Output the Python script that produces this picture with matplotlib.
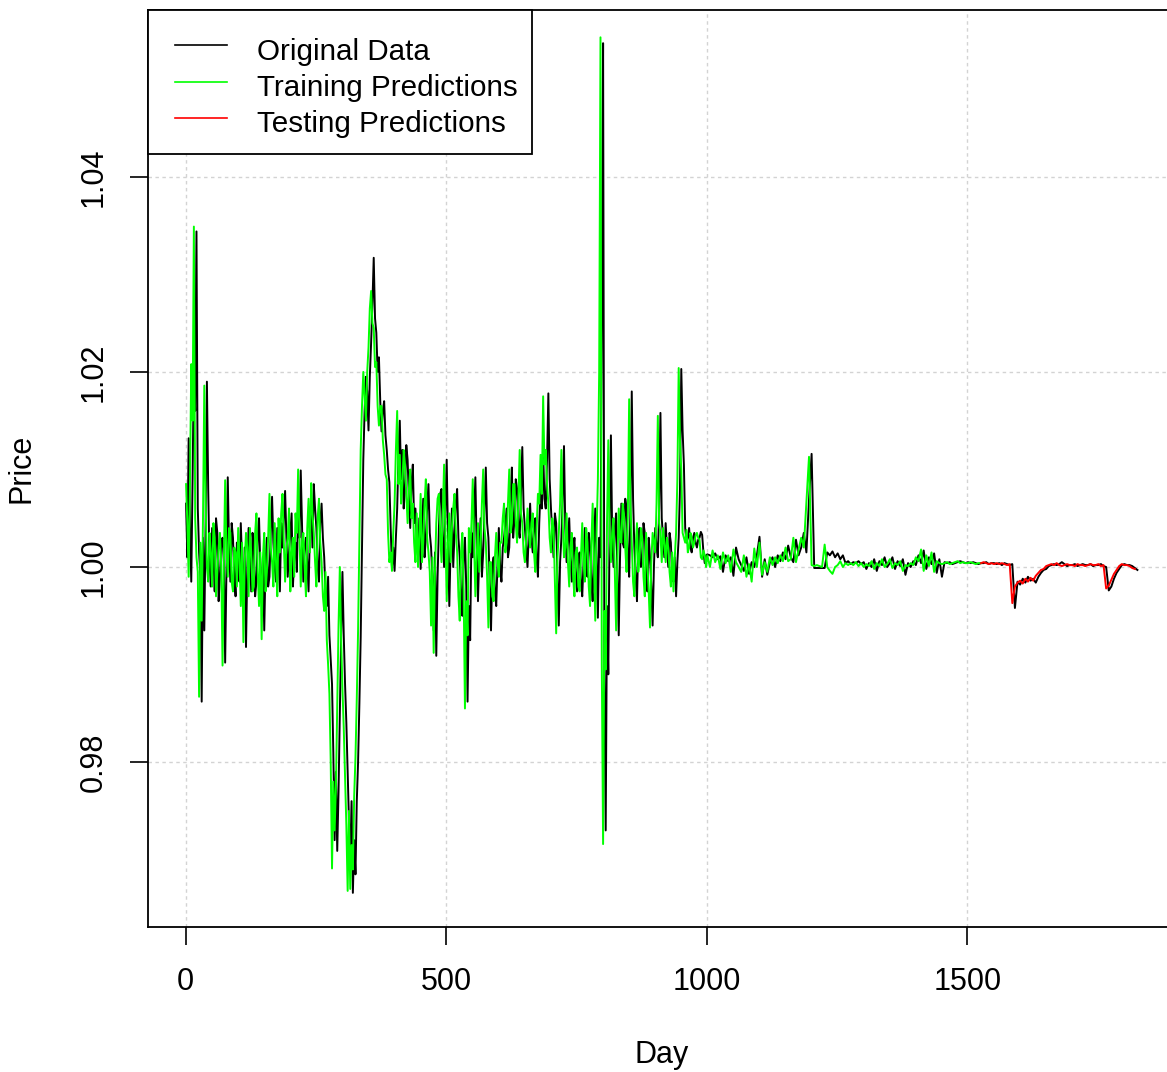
import numpy as np
import matplotlib
matplotlib.use("Agg")
import matplotlib.pyplot as plt
from matplotlib.lines import Line2D
from matplotlib.patches import Rectangle

plt.rcParams['font.family'] = ['Liberation Sans', 'DejaVu Sans']

# Price series: every 2.5 days over the volatile first 1000 days,
# then every 5 days up to day 1826
original_days = np.concatenate([np.arange(1, 1000, 2.5), np.arange(1001, 1827, 5)])
original_price = [
    # days 1 .. 998.5
    1.0065, 1.0010, 1.0132, 1.0040, 0.9985, 1.0090, 1.0205, 1.0160, 1.0344, 1.0060,
    1.0015, 0.9990, 0.9862, 1.0030, 0.9935, 1.0045, 1.0190, 1.0080, 1.0005, 0.9980,
    1.0040, 1.0010, 0.9975, 1.0050, 1.0035, 0.9965, 0.9990, 1.0025, 1.0030, 1.0005,
    0.9902, 1.0000, 1.0092, 1.0020, 0.9985, 1.0045, 1.0030, 0.9990, 0.9970, 1.0025,
    1.0010, 0.9985, 1.0045, 1.0005, 0.9965, 1.0020, 0.9918, 1.0000, 1.0040, 1.0015,
    0.9975, 1.0035, 1.0020, 0.9970, 0.9985, 1.0030, 1.0050, 1.0000, 0.9965, 1.0010,
    0.9935, 1.0005, 1.0030, 0.9980, 0.9990, 1.0035, 1.0072, 1.0025, 1.0000, 0.9985,
    1.0040, 1.0010, 0.9975, 1.0045, 1.0020, 1.0050, 1.0078, 1.0030, 0.9990, 1.0015,
    1.0035, 1.0055, 0.9980, 1.0010, 1.0025, 0.9995, 1.0060, 1.0030, 1.0099, 1.0040,
    0.9985, 1.0020, 1.0030, 1.0005, 0.9975, 1.0035, 1.0065, 1.0020, 1.0085, 1.0060,
    1.0040, 1.0000, 0.9985, 1.0045, 1.0065, 1.0030, 1.0010, 0.9975, 0.9960, 0.9990,
    0.9930, 0.9905, 0.9880, 0.9810, 0.9720, 0.9790, 0.9709, 0.9770, 0.9850, 0.9930,
    0.9995, 0.9930, 0.9880, 0.9840, 0.9790, 0.9740, 0.9700, 0.9760, 0.9666, 0.9720,
    0.9685, 0.9760, 0.9800, 0.9860, 0.9928, 1.0020, 1.0110, 1.0160, 1.0195, 1.0180,
    1.0140, 1.0195, 1.0230, 1.0270, 1.0317, 1.0255, 1.0240, 1.0200, 1.0215, 1.0170,
    1.0139, 1.0160, 1.0170, 1.0135, 1.0120, 1.0100, 1.0087, 1.0040, 1.0000, 1.0020,
    0.9996, 1.0030, 1.0060, 1.0115, 1.0150, 1.0090, 1.0120, 1.0060, 1.0080, 1.0125,
    1.0110, 1.0070, 1.0040, 1.0085, 1.0105, 1.0045, 1.0060, 1.0030, 1.0010, 1.0050,
    0.9998, 1.0035, 1.0070, 1.0010, 1.0030, 1.0060, 1.0085, 1.0035, 1.0020, 0.9990,
    0.9935, 1.0015, 0.9909, 0.9990, 1.0040, 1.0075, 1.0080, 1.0030, 1.0000, 1.0060,
    1.0110, 1.0030, 0.9960, 1.0020, 1.0060, 1.0000, 1.0035, 1.0065, 1.0080, 1.0030,
    1.0010, 0.9975, 0.9950, 1.0010, 1.0030, 0.9980, 0.9862, 0.9960, 0.9925, 1.0035,
    1.0010, 1.0050, 1.0092, 1.0020, 0.9965, 1.0015, 1.0050, 0.9990, 1.0015, 1.0060,
    1.0102, 1.0045, 1.0030, 0.9985, 0.9935, 1.0000, 1.0010, 0.9975, 0.9960, 1.0005,
    1.0040, 1.0000, 0.9985, 1.0020, 1.0030, 1.0045, 1.0060, 1.0010, 1.0020, 1.0070,
    1.0102, 1.0030, 1.0050, 1.0090, 1.0080, 1.0040, 1.0030, 1.0075, 1.0123, 1.0060,
    1.0040, 1.0020, 1.0000, 1.0035, 1.0065, 1.0030, 1.0015, 1.0040, 1.0050, 1.0010,
    0.9990, 1.0045, 1.0080, 1.0060, 1.0120, 1.0070, 1.0060, 1.0110, 1.0178, 1.0090,
    1.0060, 1.0035, 1.0010, 1.0055, 1.0045, 0.9990, 0.9940, 1.0005, 1.0030, 1.0070,
    1.0124, 1.0040, 1.0005, 1.0025, 1.0050, 1.0010, 0.9985, 1.0015, 1.0030, 0.9995,
    0.9975, 1.0010, 1.0015, 0.9985, 0.9970, 1.0005, 1.0040, 1.0010, 0.9990, 1.0035,
    1.0020, 0.9985, 0.9965, 1.0020, 1.0060, 1.0010, 0.9948, 1.0030, 1.0010, 1.0260,
    1.0537, 0.9890, 0.9730, 0.9960, 0.9890, 1.0040, 1.0135, 1.0030, 1.0000, 1.0040,
    1.0055, 0.9990, 0.9930, 1.0010, 1.0065, 1.0025, 1.0020, 1.0070, 1.0060, 1.0015,
    0.9990, 1.0060, 1.0180, 1.0070, 1.0020, 0.9990, 0.9965, 1.0025, 1.0040, 1.0000,
    1.0005, 1.0045, 1.0035, 0.9995, 0.9975, 1.0030, 1.0010, 0.9980, 0.9940, 1.0000,
    1.0040, 1.0020, 1.0010, 1.0060, 1.0158, 1.0050, 1.0030, 1.0010, 1.0045, 1.0020,
    1.0000, 1.0035, 1.0025, 0.9990, 0.9985, 1.0010, 0.9970, 1.0005, 1.0030, 1.0080,
    1.0203, 1.0140, 1.0105, 1.0040, 1.0025, 1.0030, 1.0040, 1.0020, 1.0015, 1.0030,
    1.0035, 1.0025, 1.0020, 1.0028, 1.0030, 1.0036, 1.0033, 1.0015, 1.0004, 1.0012,
    # days 1001 .. 1826
    1.0013, 1.0012, 1.0010, 1.0014, 1.0008, 1.0011, 0.9995, 1.0012, 1.0006, 1.0010,
    0.9991, 1.0020, 1.0008, 1.0002, 0.9996, 1.0010, 0.9993, 1.0005, 1.0000, 1.0012,
    1.0031, 0.9990, 1.0008, 0.9992, 1.0005, 1.0010, 1.0000, 1.0012, 1.0006, 1.0015,
    1.0008, 1.0022, 1.0010, 1.0005, 1.0028, 1.0012, 1.0020, 1.0035, 1.0015, 1.0069,
    1.0116, 0.9999, 0.9999, 0.9999, 0.9999, 0.9999, 1.0015, 1.0012, 1.0016, 1.0010,
    1.0014, 1.0008, 1.0012, 1.0004, 1.0006, 1.0003, 1.0005, 1.0004, 1.0006, 1.0003,
    1.0005, 0.9998, 1.0004, 1.0000, 1.0008, 0.9996, 1.0006, 1.0002, 1.0010, 1.0000,
    1.0004, 1.0010, 0.9998, 1.0006, 1.0001, 1.0008, 0.9992, 1.0004, 1.0000, 1.0006,
    1.0002, 1.0012, 1.0004, 1.0017, 0.9998, 1.0010, 1.0003, 1.0014, 0.9994, 1.0008,
    0.9990, 1.0005, 1.0004, 1.0005, 1.0003, 1.0004, 1.0005, 1.0006, 1.0005, 1.0004,
    1.0005, 1.0004, 1.0005, 1.0004, 1.0003, 1.0004, 1.0004, 1.0005, 1.0003, 1.0004,
    1.0004, 1.0003, 1.0004, 1.0002, 1.0004, 1.0003, 1.0002, 1.0003, 0.9958, 0.9985,
    0.9982, 0.9988, 0.9984, 0.9990, 0.9986, 0.9988, 0.9984, 0.9990, 0.9994, 0.9997,
    0.9998, 1.0001, 1.0002, 1.0003, 1.0002, 1.0003, 1.0005, 1.0003, 1.0001, 1.0002,
    1.0002, 1.0003, 1.0001, 1.0002, 1.0003, 1.0002, 1.0002, 1.0003, 1.0001, 1.0002,
    1.0002, 1.0003, 1.0001, 1.0000, 0.9976, 0.9980, 0.9988, 0.9994, 0.9998, 1.0002,
    1.0003, 1.0002, 1.0002, 1.0001, 0.9999, 0.9997,
]

# Model output on the training period (days 1 .. 1526)
train_days = np.concatenate([np.arange(1, 1000, 2.5), np.arange(1001, 1527, 5)])
train_pred = [
    # days 1 .. 998.5
    1.0085, 1.0045, 0.9990, 1.0085, 1.0208, 1.0150, 1.0349, 1.0050, 1.0010, 0.9995,
    0.9867, 1.0025, 0.9945, 1.0050, 1.0186, 1.0070, 1.0000, 0.9985, 1.0035, 1.0015,
    0.9980, 1.0045, 1.0030, 0.9970, 0.9995, 1.0020, 1.0035, 1.0000, 0.9899, 1.0005,
    1.0089, 1.0015, 0.9990, 1.0040, 1.0035, 0.9985, 0.9975, 1.0020, 1.0015, 0.9980,
    1.0040, 1.0010, 0.9960, 1.0025, 0.9923, 1.0005, 1.0035, 1.0020, 0.9970, 1.0040,
    1.0015, 0.9975, 0.9980, 1.0035, 1.0055, 0.9995, 0.9960, 1.0015, 0.9926, 1.0010,
    1.0035, 0.9975, 0.9995, 1.0030, 1.0075, 1.0020, 1.0005, 0.9980, 1.0045, 1.0005,
    0.9970, 1.0050, 1.0015, 1.0055, 1.0075, 1.0025, 0.9985, 1.0020, 1.0030, 1.0060,
    0.9975, 1.0015, 1.0030, 0.9990, 1.0055, 1.0035, 1.0100, 1.0035, 0.9980, 1.0025,
    1.0035, 1.0000, 0.9970, 1.0040, 1.0070, 1.0015, 1.0086, 1.0055, 1.0035, 1.0005,
    0.9980, 1.0050, 1.0070, 1.0025, 1.0005, 0.9970, 0.9955, 0.9995, 0.9925, 0.9900,
    0.9870, 0.9800, 0.9691, 0.9780, 0.9730, 0.9775, 0.9860, 0.9940, 1.0000, 0.9925,
    0.9875, 0.9835, 0.9785, 0.9735, 0.9668, 0.9750, 0.9670, 0.9715, 0.9690, 0.9765,
    0.9805, 0.9865, 0.9935, 1.0030, 1.0120, 1.0165, 1.0200, 1.0175, 1.0150, 1.0200,
    1.0225, 1.0265, 1.0283, 1.0250, 1.0245, 1.0205, 1.0210, 1.0165, 1.0145, 1.0165,
    1.0165, 1.0130, 1.0115, 1.0095, 1.0090, 1.0035, 1.0005, 1.0015, 0.9996, 1.0035,
    1.0065, 1.0120, 1.0160, 1.0085, 1.0115, 1.0065, 1.0085, 1.0120, 1.0105, 1.0075,
    1.0045, 1.0080, 1.0100, 1.0050, 1.0065, 1.0025, 1.0005, 1.0055, 1.0000, 1.0030,
    1.0075, 1.0005, 1.0025, 1.0065, 1.0090, 1.0030, 1.0015, 0.9995, 0.9940, 1.0010,
    0.9912, 0.9995, 1.0045, 1.0070, 1.0075, 1.0035, 1.0005, 1.0055, 1.0105, 1.0035,
    0.9965, 1.0025, 1.0055, 1.0005, 1.0040, 1.0060, 1.0075, 1.0035, 1.0015, 0.9970,
    0.9945, 1.0015, 1.0035, 0.9975, 0.9855, 0.9965, 0.9930, 1.0040, 1.0015, 1.0045,
    1.0090, 1.0025, 0.9970, 1.0010, 1.0045, 0.9995, 1.0020, 1.0065, 1.0100, 1.0040,
    1.0025, 0.9990, 0.9938, 1.0005, 1.0005, 0.9970, 0.9965, 1.0010, 1.0035, 1.0005,
    0.9990, 1.0025, 1.0025, 1.0050, 1.0065, 1.0015, 1.0025, 1.0065, 1.0100, 1.0035,
    1.0045, 1.0085, 1.0085, 1.0045, 1.0025, 1.0070, 1.0120, 1.0055, 1.0045, 1.0015,
    1.0005, 1.0030, 1.0060, 1.0035, 1.0020, 1.0045, 1.0055, 1.0015, 0.9995, 1.0040,
    1.0075, 1.0065, 1.0115, 1.0075, 1.0175, 1.0105, 1.0120, 1.0085, 1.0065, 1.0030,
    1.0015, 1.0050, 1.0040, 0.9985, 0.9932, 1.0010, 1.0035, 1.0065, 1.0120, 1.0045,
    1.0010, 1.0020, 1.0055, 1.0005, 0.9980, 1.0020, 1.0035, 0.9990, 0.9970, 1.0015,
    1.0020, 0.9980, 0.9975, 1.0010, 1.0045, 1.0005, 0.9985, 1.0040, 1.0025, 0.9980,
    0.9960, 1.0025, 1.0065, 1.0005, 0.9945, 1.0035, 1.0090, 1.0200, 1.0543, 0.9900,
    0.9716, 0.9955, 0.9895, 1.0045, 1.0130, 1.0035, 1.0005, 1.0035, 1.0050, 0.9995,
    0.9935, 1.0005, 1.0060, 1.0030, 1.0025, 1.0065, 1.0055, 1.0020, 0.9995, 1.0055,
    1.0172, 1.0065, 1.0025, 0.9985, 0.9970, 1.0020, 1.0045, 0.9995, 1.0010, 1.0040,
    1.0030, 0.9990, 0.9970, 1.0035, 1.0005, 0.9975, 0.9938, 1.0005, 1.0035, 1.0025,
    1.0015, 1.0065, 1.0155, 1.0045, 1.0035, 1.0005, 1.0040, 1.0025, 1.0005, 1.0030,
    1.0020, 0.9995, 0.9980, 1.0015, 0.9975, 1.0010, 1.0035, 1.0090, 1.0204, 1.0130,
    1.0100, 1.0035, 1.0030, 1.0025, 1.0038, 1.0015, 1.0020, 1.0035, 1.0030, 1.0020,
    1.0025, 1.0032, 1.0035, 1.0030, 1.0028, 1.0010, 1.0008, 1.0017, 1.0012, 1.0000,
    # days 1001 .. 1526
    1.0012, 1.0000, 1.0017, 1.0005, 1.0012, 0.9998, 1.0015, 1.0004, 1.0012, 0.9995,
    1.0018, 1.0005, 1.0000, 0.9995, 1.0012, 0.9990, 1.0003, 0.9985, 1.0019, 1.0000,
    1.0025, 0.9992, 1.0005, 0.9995, 1.0010, 1.0002, 1.0010, 1.0004, 1.0012, 1.0006,
    1.0020, 1.0006, 1.0008, 1.0030, 1.0005, 1.0018, 1.0030, 1.0020, 1.0067, 1.0113,
    1.0002, 1.0001, 1.0002, 1.0001, 1.0000, 1.0023, 1.0000, 0.9996, 0.9993, 1.0000,
    1.0002, 1.0006, 1.0000, 1.0004, 1.0002, 1.0004, 1.0002, 1.0005, 1.0001, 1.0004,
    1.0000, 1.0003, 1.0001, 1.0006, 0.9998, 1.0004, 1.0001, 1.0008, 1.0000, 1.0003,
    1.0008, 0.9999, 1.0004, 1.0002, 1.0006, 0.9996, 1.0002, 1.0001, 1.0004, 1.0002,
    1.0010, 1.0006, 1.0018, 0.9996, 1.0012, 1.0001, 1.0015, 0.9995, 1.0006, 1.0004,
    1.0003, 1.0004, 1.0005, 1.0003, 1.0004, 1.0005, 1.0006, 1.0004, 1.0005, 1.0004,
    1.0004, 1.0005, 1.0004, 1.0003, 1.0004, 1.0004,
]

# Model output on the test period (days 1526 .. 1821)
test_days = np.arange(1526, 1822, 5)
test_pred = [
    1.0004, 1.0005, 1.0004, 1.0003, 1.0004,
    1.0003, 1.0004, 1.0003, 1.0004, 1.0003, 1.0002, 1.0003, 0.9963, 0.9980, 0.9984,
    0.9986, 0.9983, 0.9988, 0.9985, 0.9989, 0.9986, 0.9991, 0.9994, 0.9997, 0.9998,
    1.0001, 1.0002, 1.0003, 1.0002, 1.0004, 1.0002, 1.0001, 1.0002, 1.0003, 1.0002,
    1.0002, 1.0001, 1.0003, 1.0002, 1.0002, 1.0001, 1.0002, 1.0003, 1.0002, 1.0002,
    1.0003, 1.0001, 1.0002, 0.9978, 0.9981, 0.9987, 0.9993, 0.9997, 1.0001, 1.0003,
    1.0002, 1.0002, 1.0001, 0.9999, 0.9998,
]

x_ticks = [0, 500, 1000, 1500]
y_ticks = [0.98, 1.00, 1.02, 1.04]
y_tick_labels = ["0.98", "1.00", "1.02", "1.04"]
series_labels = ["Original Data", "Training Predictions", "Testing Predictions"]
series_colors = ["#000000", "#00FF00", "#FF0000"]

W, H = 1167, 1072
fig = plt.figure(figsize=(W / 100, H / 100), dpi=100)


def fx(px):
    return px / W


def fy(py):
    return 1 - py / H


# plot region in pixels: left 148, top 10, bottom 927, right edge runs past the canvas
ax = fig.add_axes([fx(148), fy(927), (1176 - 148) / W, (927 - 10) / H])

ax.set_xlim(-72, 1900)
ax.set_ylim(0.9631, 1.0571)

grid_kw = dict(color="#D3D3D3", lw=1.0, linestyle=(0, (2.5, 2.5)), zorder=0)
for xv in x_ticks:
    ax.axvline(xv, **grid_kw)
for yv in y_ticks:
    ax.axhline(yv, **grid_kw)

lw = 1.4
ax.plot(original_days, original_price, color=series_colors[0], lw=lw, zorder=2)
ax.plot(train_days, train_pred, color=series_colors[1], lw=lw, zorder=3)
ax.plot(test_days, test_pred, color=series_colors[2], lw=lw, zorder=4)

ax.set_xticks(x_ticks)
ax.set_xticklabels([str(v) for v in x_ticks])
ax.set_yticks(y_ticks)
ax.set_yticklabels(y_tick_labels, rotation=90, va="center")
ax.tick_params(direction="out", length=13, width=1.2, labelsize=22,
               colors="#000000")
ax.tick_params(axis="x", pad=16)
ax.tick_params(axis="y", pad=15)
for s in ax.spines.values():
    s.set_linewidth(1.3)

fig.text(fx(22), fy(468), "Price", rotation=90, ha="center", va="center",
         fontsize=22)
fig.text(fx(662), fy(1055), "Day", ha="center", va="center", fontsize=22)

# legend box in the top-left corner of the plot region
fig.add_artist(Rectangle((fx(148), fy(154)), (531.5 - 148) / W, (154 - 10) / H,
                         transform=fig.transFigure, facecolor="white",
                         edgecolor="#000000", lw=1.3, zorder=5))
row_line_y = [45, 81.5, 117.5]
row_text_y = [60, 96.5, 132.5]
for label, color, ly, ty in zip(series_labels, series_colors, row_line_y, row_text_y):
    fig.add_artist(Line2D([fx(175), fx(227)], [fy(ly), fy(ly)],
                          transform=fig.transFigure, color=color, lw=1.2, zorder=6))
    fig.text(fx(257), fy(ty), label, ha="left", va="baseline", fontsize=21.3,
             zorder=6)

fig.savefig("out.png", dpi=100)
